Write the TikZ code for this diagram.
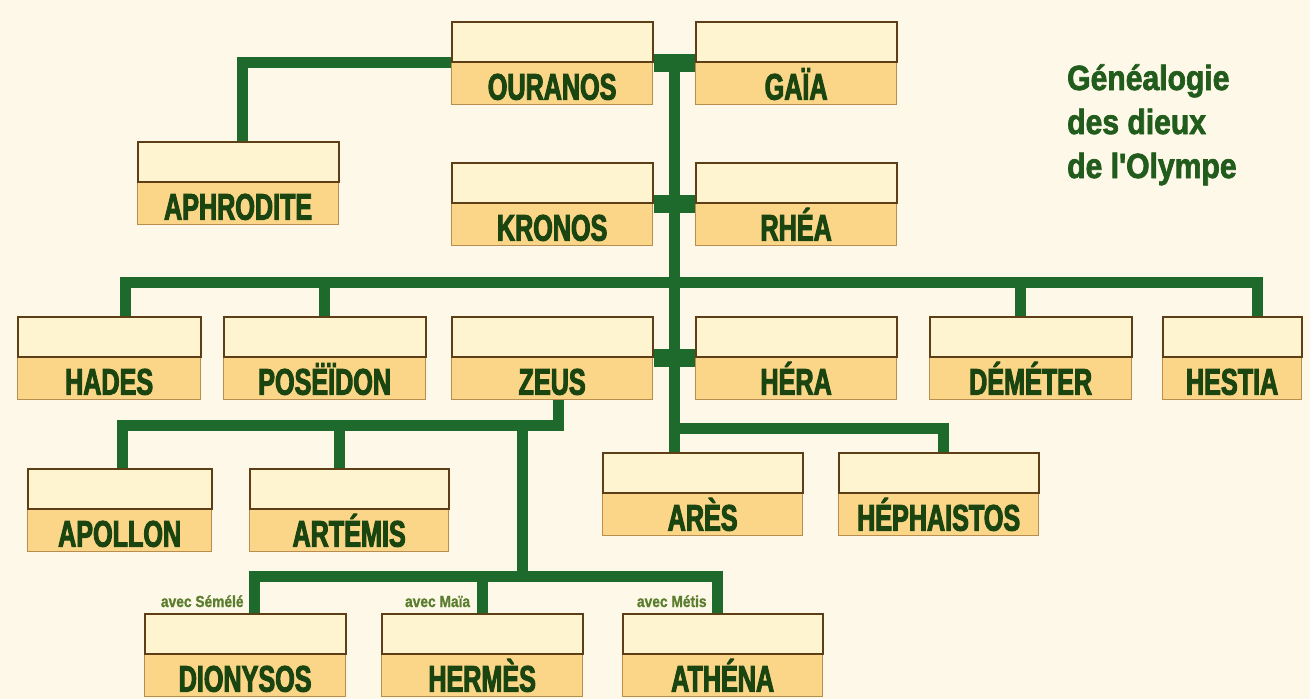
\documentclass[tikz,border=0pt]{standalone}
\usepackage{fontspec}
\usetikzlibrary{calc,backgrounds}
\newfontfamily\labfont[FakeStretch=0.68,FakeBold=2.6]{Liberation Sans Bold}
\newfontfamily\titfont[FakeStretch=0.86,FakeBold=2]{Liberation Sans Bold}
\newfontfamily\avfont[FakeStretch=0.86,FakeBold=1]{Liberation Sans Bold}
\definecolor{bgc}{HTML}{FDF8E8}
\definecolor{topfill}{HTML}{FFF4D0}
\definecolor{botfill}{HTML}{FBD688}
\definecolor{boxedge}{HTML}{5E3E16}
\definecolor{botedge}{HTML}{B88E50}
\definecolor{linkc}{HTML}{1E6A2C}
\definecolor{labtext}{HTML}{1A4510}
\definecolor{avc}{HTML}{5A7E2E}
\definecolor{titc}{HTML}{225C1C}
\tikzset{
  topbox/.style={draw=boxedge, fill=topfill, line width=1.6pt, minimum height=40pt, inner sep=0pt, anchor=north west},
  botbox/.style={draw=botedge, fill=botfill, line width=1.3pt, minimum height=43pt, inner sep=0pt,
    text height=33pt, text depth=0pt, font=\labfont\fontsize{37}{37}\selectfont, text=labtext, anchor=north west},
  link/.style={draw=linkc, line width=11pt},
  marriage/.style={draw=linkc, line width=18pt},
  avec/.style={font=\avfont\fontsize{16}{16}\selectfont, text=avc, inner sep=0pt, anchor=base east},
  title/.style={font=\titfont\fontsize{35}{35}\selectfont, text=titc, inner sep=0pt, anchor=base west}
}
\newcommand{\godbox}[5]{%
  \node[botbox, minimum width=#4] (#1) at (#2,#3+40) {#5};
  \node[topbox, minimum width=#4] (#1t) at (#2,#3) {};
}
\begin{document}
\begin{tikzpicture}[x=1pt,y=-1pt]
\useasboundingbox (0,0) rectangle (1310,699);
\godbox{ouranos}{451}{21}{201}{OURANOS}
\godbox{gaia}{695}{21}{201}{GAÏA}
\godbox{aphrodite}{137}{141}{201}{APHRODITE}
\godbox{kronos}{451}{162}{201}{KRONOS}
\godbox{rhea}{695}{162}{201}{RHÉA}
\godbox{hades}{17}{316}{183}{HADES}
\godbox{poseidon}{223}{316}{202}{POSËÏDON}
\godbox{zeus}{451}{316}{201}{ZEUS}
\godbox{hera}{695}{316}{201}{HÉRA}
\godbox{demeter}{929}{316}{202}{DÉMÉTER}
\godbox{hestia}{1162}{316}{139}{HESTIA}
\godbox{apollon}{27}{468}{184}{APOLLON}
\godbox{artemis}{249}{468}{199}{ARTÉMIS}
\godbox{ares}{602}{452}{200}{ARÈS}
\godbox{hephaistos}{838}{452}{200}{HÉPHAISTOS}
\godbox{dionysos}{144}{613}{201}{DIONYSOS}
\godbox{hermes}{381}{613}{201}{HERMÈS}
\godbox{athena}{622}{613}{200}{ATHÉNA}

\node[title] (t1) at (1067,90) {Généalogie};
\node[title] (t2) at (1067,134) {des dieux};
\node[title] (t3) at (1067,178) {de l\char"0027Olympe};

\coordinate (m0) at ($(ouranost.south east)!0.5!(gaiat.south west)$);
\coordinate (bar1) at (673.5,282);
\coordinate (bar2) at (522,425);
\coordinate (bar3) at (522,576);
\coordinate (bar4) at (673.5,428);
\coordinate (aphroJ) at ([xshift=4.5pt]aphroditet.north);
\coordinate (hadesJ) at ([xshift=16.5pt]hadest.north);
\coordinate (poseJ) at (poseidont.north);
\coordinate (demJ) at ([xshift=-10pt]demetert.north);
\coordinate (hestJ) at ([xshift=25.5pt]hestiat.north);
\coordinate (zJ) at ([xshift=6pt]zeus.south);
\coordinate (apolJ) at ([xshift=3pt]apollont.north);
\coordinate (artJ) at ([xshift=-9.5pt]artemist.north);
\coordinate (dioJ) at ([xshift=9.5pt]dionysost.north);
\coordinate (herJ) at (hermest.north);
\coordinate (athJ) at ([xshift=-5pt]athenat.north);
\coordinate (hephJ) at ([xshift=5pt]hephaistost.north);

\node[avec] (av1) at ([xshift=-11pt,yshift=6pt]dioJ) {avec Sémélé};
\node[avec] (av2) at ([xshift=-12pt,yshift=6pt]herJ) {avec Maïa};
\node[avec] (av3) at ([xshift=-11pt,yshift=6pt]athJ) {avec Métis};

\begin{pgfonlayer}{background}
\fill[bgc] (0,0) rectangle (1310,699);
\draw[marriage] (ouranost.south east) -- (gaiat.south west);
\draw[marriage] (kronost.south east) -- (rheat.south west);
\draw[marriage] (zeust.south east) -- (herat.south west);
\draw[link] (m0) -- (m0 |- arest.north);
\draw[link] (ouranost.south west) -| (aphroJ);
\draw[link] (hadesJ) -- (hadesJ |- bar1) -- (hestJ |- bar1) -- (hestJ);
\draw[link] (poseJ) -- (poseJ |- bar1);
\draw[link] (demJ) -- (demJ |- bar1);
\draw[link] (zJ) -- (zJ |- bar2) -- (apolJ |- bar2) -- (apolJ);
\draw[link] (artJ) -- (artJ |- bar2);
\draw[link] (bar2) -- (bar3);
\draw[link] (dioJ) -- (dioJ |- bar3) -- (athJ |- bar3) -- (athJ);
\draw[link] (herJ) -- (herJ |- bar3);
\draw[link] (m0 |- bar4) -- (hephJ |- bar4) -- (hephJ);
\end{pgfonlayer}
\end{tikzpicture}
\end{document}
